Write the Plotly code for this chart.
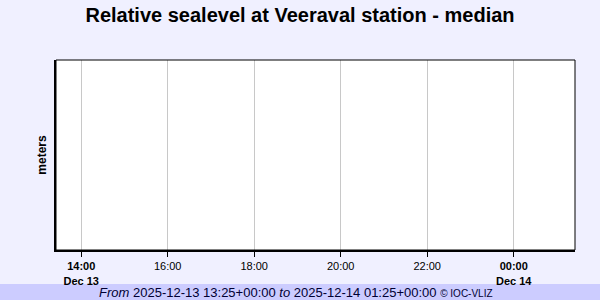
import plotly.graph_objects as go

# data (no observations in this window)
times = []
values = []

x_start = "2025-12-13 13:25"
x_end = "2025-12-14 01:25"
tick_times = ["2025-12-13 14:00", "2025-12-13 16:00", "2025-12-13 18:00",
              "2025-12-13 20:00", "2025-12-13 22:00", "2025-12-14 00:00"]
tick_labels = ["<b>14:00<br>Dec 13</b>", "16:00", "18:00", "20:00", "22:00", "<b>00:00<br>Dec 14</b>"]

fig = go.Figure()
fig.add_trace(go.Scatter(x=times, y=values, mode="lines", line=dict(color="#0000cc")))

bg = "#f0f0ff"
fig.update_layout(
    width=600, height=300,
    paper_bgcolor=bg, plot_bgcolor="white",
    margin=dict(l=56, r=25, t=60, b=50),
    showlegend=False,
    font=dict(family="Liberation Sans, Arial, sans-serif", size=11, color="black"),
    title=dict(text="<b>Relative sealevel at Veeraval station - median</b>",
               x=0.5, xanchor="center", y=1 - 15/300, yanchor="middle",
               font=dict(size=20, color="black")),
    xaxis=dict(type="date", range=[x_start, x_end], tickvals=tick_times, ticktext=tick_labels,
               showgrid=True, gridcolor="#c8c8c8", gridwidth=1,
               showline=True, linecolor="black", linewidth=2,
               ticks="outside", ticklen=5, tickcolor="black", tickwidth=1,
               tickfont=dict(size=11, color="black"), zeroline=False),
    yaxis=dict(range=[0, 1], showticklabels=False, showgrid=False, zeroline=False,
               showline=True, linecolor="black", linewidth=2, ticks="",
               title=dict(text="<b>meters</b>", font=dict(size=12, color="black"), standoff=5)),
    shapes=[
        dict(type="rect", xref="paper", yref="paper", x0=0, x1=1, y0=0, y1=1,
             line=dict(color="black", width=1), fillcolor="rgba(0,0,0,0)", layer="above"),
        dict(type="rect", xref="paper", yref="paper",
             x0=-56/519, x1=1 + 25/519, y0=-50/190, y1=-34/190,
             line=dict(width=0), fillcolor="#ccccff", layer="below"),
    ],
    annotations=[
        dict(xref="paper", yref="paper", x=(296 - 56) / 519, y=-42/190,
             xanchor="center", yanchor="middle", showarrow=False,
             text="<i>From</i> 2025-12-13 13:25+00:00 <i>to</i> 2025-12-14 01:25+00:00 <span style='font-size:10px'>© IOC-VLIZ</span>",
             font=dict(size=13, color="#000033")),
    ],
)

fig.write_html("out.html")
